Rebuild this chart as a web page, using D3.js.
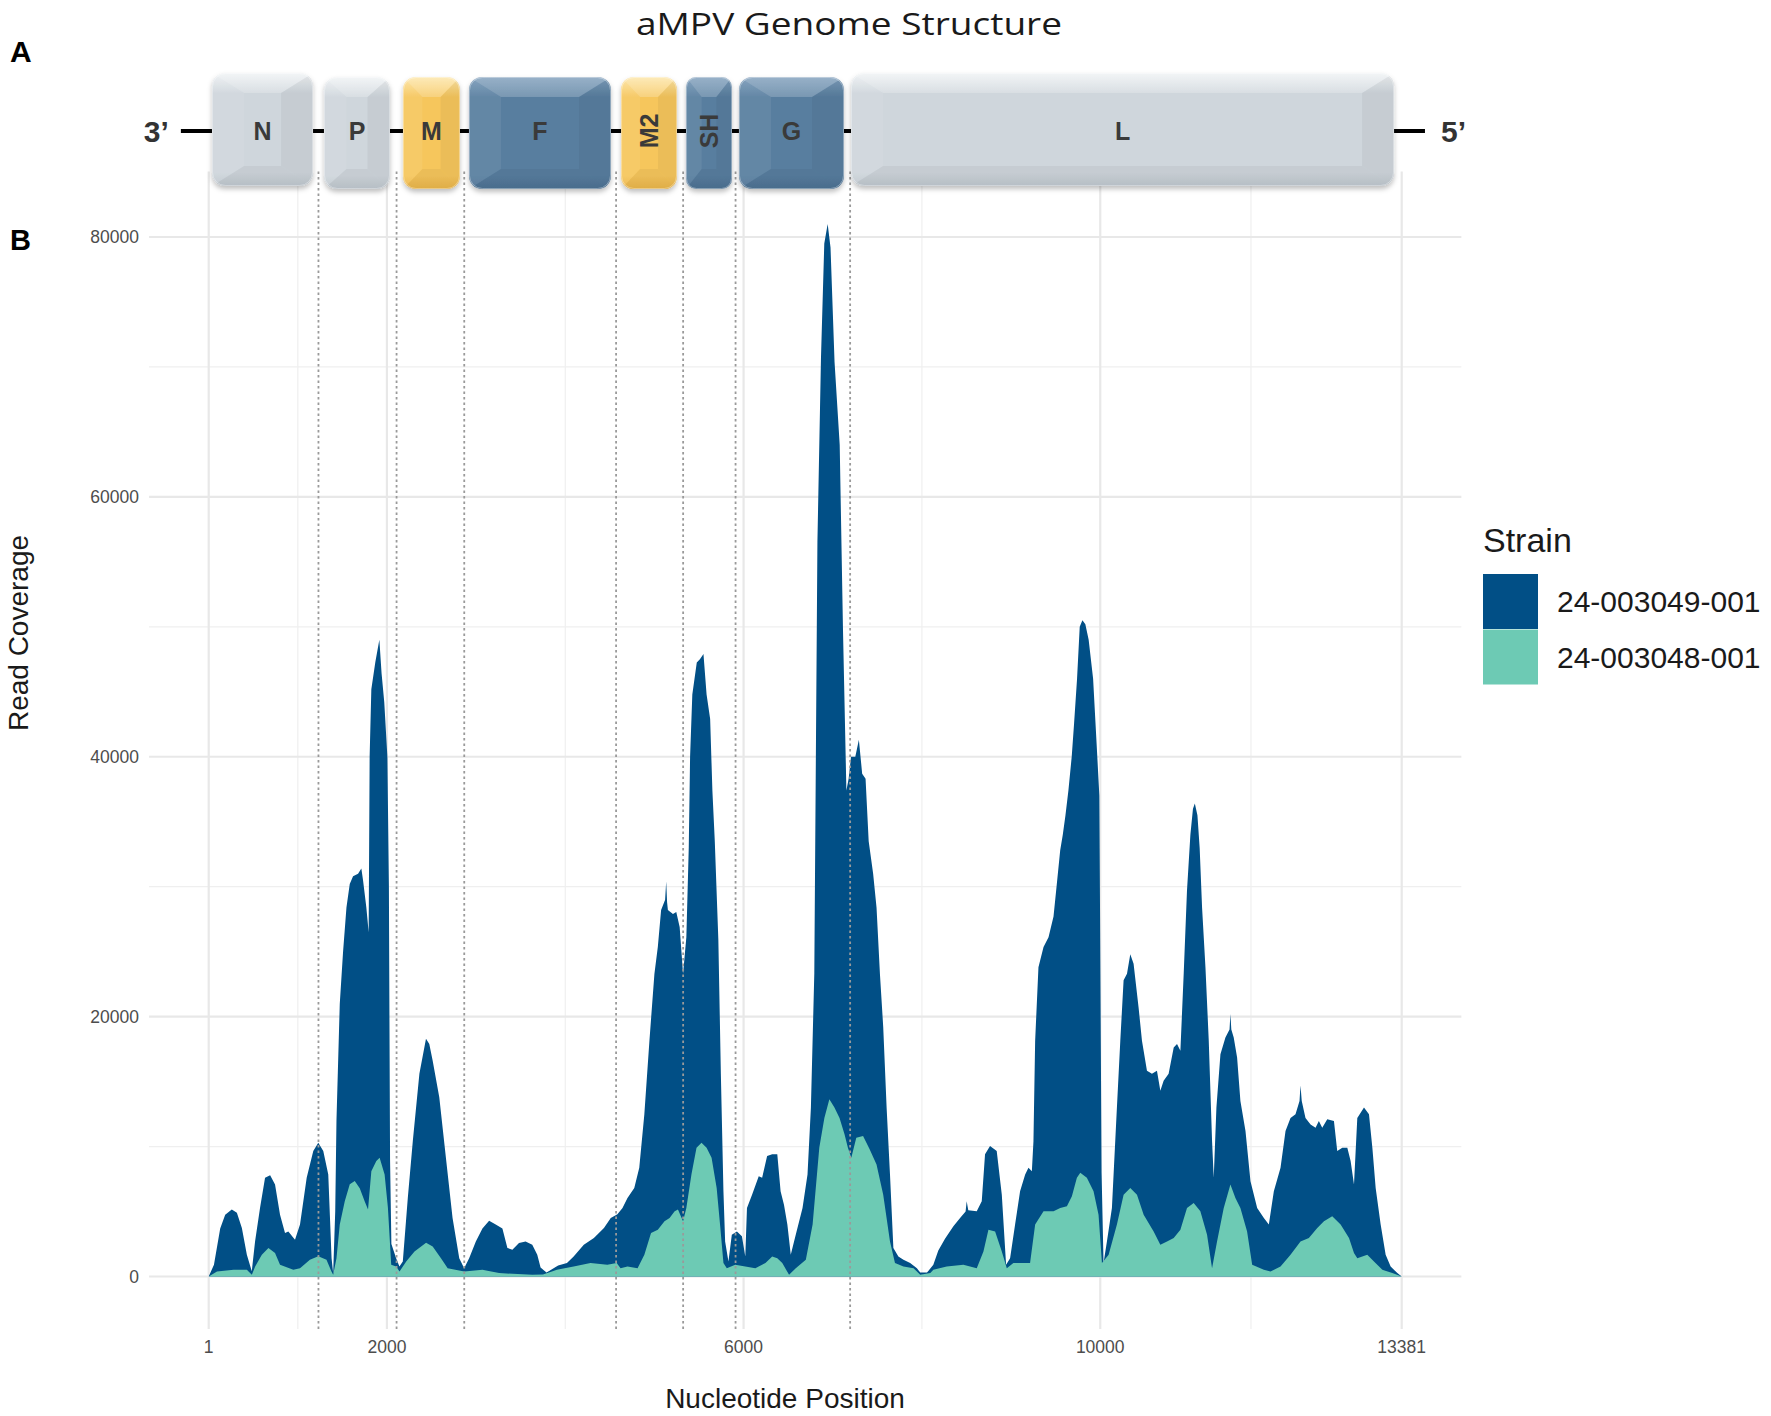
<!DOCTYPE html>
<html><head><meta charset="utf-8">
<script src="https://cdn.jsdelivr.net/npm/d3@7"></script>
<style>body{margin:0;background:#fff}svg{display:block}</style>
</head><body>
<svg id="chart" width="1771" height="1416"></svg>
<script>
// ---------- data ----------
const strains = ["24-003049-001", "24-003048-001"];
const strainColors = ["#014f86", "#6dcab4"];

const blueNt = [1,60,130,186,260,317,373,429,484,521,577,633,690,745,801,857,894,969,1025,1100,1174,1230,1286,1342,1379,1397,1420,1434,1471,1508,1546,1583,1620,1676,1713,1732,1769,1795,1806,1825,1870,1915,1940,1970,2005,2022,2035,2050,2103,2140,2178,2234,2290,2364,2438,2475,2513,2587,2662,2736,2811,2866,2922,2997,3071,3146,3220,3295,3351,3407,3481,3555,3630,3686,3723,3790,3860,3920,4019,4094,4208,4321,4434,4510,4585,4642,4698,4774,4830,4887,4944,5000,5038,5075,5120,5132,5142,5151,5208,5245,5283,5321,5358,5385,5400,5425,5475,5510,5550,5585,5625,5650,5677,5717,5745,5774,5793,5830,5868,5925,5981,6019,6038,6095,6170,6208,6264,6321,6378,6415,6453,6491,6529,6585,6661,6717,6755,6793,6828,6868,6905,6943,6975,7020,7078,7115,7153,7178,7205,7253,7293,7330,7368,7403,7453,7491,7529,7566,7604,7642,7680,7736,7793,7868,7944,7981,8057,8128,8184,8259,8353,8428,8490,8502,8520,8615,8671,8708,8764,8839,8896,8944,8989,9045,9101,9158,9195,9233,9251,9270,9307,9364,9420,9476,9513,9551,9580,9610,9643,9680,9707,9740,9770,9800,9833,9870,9920,9960,9990,10015,10037,10075,10131,10187,10225,10262,10300,10337,10374,10430,10468,10524,10580,10636,10674,10711,10767,10824,10861,10899,10936,10973,11011,11040,11061,11090,11115,11142,11180,11217,11254,11273,11303,11348,11404,11450,11460,11470,11497,11535,11572,11629,11685,11760,11835,11891,11947,12022,12078,12134,12190,12235,12246,12260,12302,12359,12415,12452,12490,12546,12621,12658,12715,12771,12808,12846,12883,12958,13014,13052,13089,13145,13201,13257,13332,13381];
const blueCov = [0,900,3700,4760,5150,4900,3730,1670,400,2700,5300,7600,7800,7080,4760,3350,3470,2830,4000,7600,9650,10300,9650,7850,1400,260,5000,12000,21000,25000,28400,30200,30800,31000,31400,30500,28400,26500,40000,45200,47300,49000,46400,44200,40000,30000,9000,2500,1400,770,1150,6050,10400,15600,18300,17900,16600,13800,9100,4500,1400,640,1400,2700,3700,4300,4000,3700,2200,2060,2570,2700,2450,1670,700,300,600,850,1030,1540,2450,2960,3730,4500,4800,5280,6050,6820,8370,12480,18150,23300,25350,28200,29000,30400,28800,28200,27900,28060,26900,23300,26100,33000,40000,44800,47250,47500,47900,44800,42900,37400,33500,25900,15600,6560,2700,1160,3220,3470,3090,1540,5280,6300,7720,7600,9270,9400,9400,6560,5530,4000,1670,3220,5280,7850,13000,23300,56500,70700,79500,81000,79200,70400,64000,49700,37400,38300,40000,40000,41300,38700,38300,33500,31000,28400,23300,19200,13000,7850,2190,1540,1290,1030,640,300,300,900,2000,2900,3860,4500,5000,5800,5100,5020,5800,9400,10040,9650,6300,900,1400,4000,6560,7850,8370,8100,10400,18150,23800,25350,26100,27700,30200,32800,34000,35500,37400,40000,42600,46000,50000,50500,50200,49000,46000,40900,37000,8000,1030,2700,5280,13000,18150,22800,23300,24800,24060,20700,18150,15830,15600,15830,14290,15060,15600,17630,17890,17370,23300,29700,34000,36000,36400,35500,33000,28400,23800,18150,10440,7600,13000,17100,18400,19000,20200,19000,18400,16860,13500,11200,7340,5280,4500,4000,6560,8370,11200,12200,12480,13500,14700,13500,12200,11700,11450,11970,11450,12100,11970,9650,9900,9900,8880,7080,12200,13000,12480,9900,6820,4000,1670,770,260,0];

const tealNt = [1,94,280,429,485,522,597,671,745,801,950,1025,1136,1230,1322,1378,1397,1434,1471,1527,1583,1639,1695,1750,1788,1825,1881,1918,1974,2011,2048,2104,2141,2216,2309,2439,2513,2606,2681,2867,3072,3258,3630,3750,3906,4094,4283,4472,4577,4620,4698,4811,4887,4962,5038,5113,5170,5227,5264,5321,5358,5415,5472,5528,5585,5641,5698,5736,5774,5812,5906,6019,6132,6245,6321,6378,6434,6510,6585,6698,6774,6849,6906,6962,7019,7076,7132,7170,7208,7264,7340,7415,7491,7566,7642,7698,7793,7906,7981,8094,8128,8278,8465,8615,8690,8746,8821,8896,8952,9026,9213,9270,9364,9476,9551,9626,9682,9738,9776,9850,9925,9981,10019,10094,10187,10262,10337,10412,10487,10599,10674,10749,10824,10899,10973,11048,11123,11198,11254,11310,11385,11460,11516,11572,11647,11704,11835,11910,12022,12134,12246,12340,12434,12509,12602,12696,12790,12846,12883,12995,13070,13164,13276,13381];
const tealCov = [0,390,515,515,130,770,1670,2200,1800,900,515,640,1290,1550,1290,390,130,1400,4000,5800,7100,7350,6800,5800,5150,8100,8880,9140,7850,5300,900,770,390,1150,1930,2600,2300,1400,640,390,515,260,130,150,515,770,1030,900,1030,640,770,640,1670,3350,3600,4250,4500,5020,5150,4250,5280,7850,9900,10300,9900,9140,6820,4000,1030,640,900,770,640,1030,1540,1400,1030,130,640,1290,4000,9900,12200,13640,13000,12200,10940,9900,9140,10680,10810,9780,8620,6300,2700,1030,770,640,130,260,515,770,900,640,1930,3600,3470,1930,640,1030,1030,4000,5020,5020,5280,5400,6180,7600,7980,7600,6560,4760,1030,1670,4000,6300,6820,6300,4760,3470,2450,2700,2960,3600,5280,5660,5020,3220,640,2700,5280,7080,6050,5280,3470,900,515,390,770,1670,2700,2960,3730,4250,4630,4000,2960,1800,1400,1670,1160,515,260,0];

const xTicks = [1, 2000, 6000, 10000, 13381];
const xMinor = [1000.5, 4000, 8000, 11690.5];
const yTicks = [0, 20000, 40000, 60000, 80000];
const yMinor = [10000, 30000, 50000, 70000];
const geneBoundaries = [1232, 2108, 2867, 4570, 5322, 5910, 7195];

// genome schematic (positions in nucleotide units of the shared x scale)
const genes = ["N", "P", "M", "F", "M2", "SH", "G", "L"];
const geneStart = [38, 1294, 2180, 2920, 4626, 5354, 5948, 7205];
const geneEnd = [1171, 2034, 2819, 4513, 5253, 5870, 7126, 13295];
const geneKind = ["grey", "grey", "yellow", "blue", "yellow", "blue", "blue", "grey"];
const geneRotated = [false, false, false, false, true, true, false, false];
const geneTall = [true, false, false, false, false, false, false, true];
const genomeSpan = [-311, 13642];

// ---------- drawing ----------
const svg = d3.select("#chart");
const x = d3.scaleLinear().domain([1, 13381]).range([208.7, 1401.7]);
const y = d3.scaleLinear().domain([0, 80000]).range([1276.5, 237]);
const xExp = (13381 - 1) * 0.05;
const yMax = d3.max(blueCov);
const panelL = x(1 - xExp), panelR = x(13381 + xExp);
const panelT = y(yMax * 1.05), panelB = y(-yMax * 0.05);

const grid = svg.append("g");
grid.selectAll(".hmin").data(yMinor).join("line")
  .attr("x1", panelL).attr("x2", panelR).attr("y1", d => y(d)).attr("y2", d => y(d))
  .attr("stroke", "#efefef").attr("stroke-width", 1.2);
grid.selectAll(".vmin").data(xMinor).join("line")
  .attr("y1", panelT).attr("y2", panelB).attr("x1", d => x(d)).attr("x2", d => x(d))
  .attr("stroke", "#efefef").attr("stroke-width", 1.2);
grid.selectAll(".hmaj").data(yTicks).join("line")
  .attr("x1", panelL).attr("x2", panelR).attr("y1", d => y(d)).attr("y2", d => y(d))
  .attr("stroke", "#e8e8e8").attr("stroke-width", 2.2);
grid.selectAll(".vmaj").data(xTicks).join("line")
  .attr("y1", panelT).attr("y2", panelB).attr("x1", d => x(d)).attr("x2", d => x(d))
  .attr("stroke", "#e8e8e8").attr("stroke-width", 2.2);

const area = d3.area().x(d => x(d[0])).y0(y(0)).y1(d => y(d[1])).curve(d3.curveLinear);
svg.append("path").datum(d3.zip(blueNt, blueCov)).attr("d", area).attr("fill", strainColors[0]);
svg.append("path").datum(d3.zip(tealNt, tealCov)).attr("d", area).attr("fill", strainColors[1]);

svg.append("g").selectAll("line").data(geneBoundaries).join("line")
  .attr("x1", d => x(d)).attr("x2", d => x(d)).attr("y1", panelT).attr("y2", panelB)
  .attr("stroke", "#9a9a9a").attr("stroke-width", 1.8).attr("stroke-dasharray", "2.5,3");

// axes text
const tickFont = "'Liberation Sans', Arial, sans-serif";
svg.append("g").selectAll("text").data(yTicks).join("text")
  .attr("x", 139).attr("y", d => y(d)).attr("dy", "0.36em").attr("text-anchor", "end")
  .attr("font-family", tickFont).attr("font-size", 17.5).attr("fill", "#4d4d4d")
  .text(d => d);
svg.append("g").selectAll("text").data(xTicks).join("text")
  .attr("x", d => x(d)).attr("y", 1353).attr("text-anchor", "middle")
  .attr("font-family", tickFont).attr("font-size", 17.5).attr("fill", "#4d4d4d")
  .text(d => d);

svg.append("text").attr("x", 785).attr("y", 1408).attr("text-anchor", "middle")
  .attr("font-family", tickFont).attr("font-size", 28).attr("fill", "#1a1a1a")
  .text("Nucleotide Position");
svg.append("text").attr("transform", "translate(28,633) rotate(-90)").attr("text-anchor", "middle")
  .attr("font-family", tickFont).attr("font-size", 28).attr("fill", "#1a1a1a")
  .text("Read Coverage");

// legend
const lg = svg.append("g");
lg.append("text").attr("x", 1483).attr("y", 552).attr("font-family", tickFont)
  .attr("font-size", 34).attr("fill", "#1a1a1a").text("Strain");
lg.selectAll("rect").data(strains).join("rect")
  .attr("x", 1483).attr("y", (d, i) => 574 + i * 55.5).attr("width", 55).attr("height", 55)
  .attr("fill", (d, i) => strainColors[i]);
lg.selectAll(".lab").data(strains).join("text")
  .attr("x", 1557).attr("y", (d, i) => 612 + i * 56).attr("font-family", tickFont)
  .attr("font-size", 30).attr("fill", "#1a1a1a").text(d => d);

// title and panel letters
svg.append("text").attr("x", 849).attr("y", 35).attr("text-anchor", "middle")
  .attr("font-family", "'Open Sans', sans-serif").attr("font-size", 31).attr("fill", "#1a1a1a")
  .attr("textLength", 426).attr("lengthAdjust", "spacingAndGlyphs")
  .text("aMPV Genome Structure");
svg.append("text").attr("x", 10).attr("y", 62).attr("font-family", tickFont)
  .attr("font-weight", "bold").attr("font-size", 30).attr("fill", "#000").text("A");
svg.append("text").attr("x", 10).attr("y", 250).attr("font-family", tickFont)
  .attr("font-weight", "bold").attr("font-size", 29).attr("fill", "#000").text("B");

// genome schematic
const defs = svg.append("defs");
const f = defs.append("filter").attr("id", "shadow").attr("x", "-20%").attr("y", "-20%").attr("width", "140%").attr("height", "150%");
f.append("feDropShadow").attr("dx", 0).attr("dy", 3).attr("stdDeviation", 2.5)
  .attr("flood-color", "#000").attr("flood-opacity", 0.25);
const palette = {
  grey: ["#f0f3f5", "#cfd6dc", "#bfc7ce"],
  yellow: ["#fde6a8", "#f6c65c", "#eab54b"],
  blue: ["#7e9ebb", "#587e9f", "#4d7193"]
};
Object.entries(palette).forEach(([k, c]) => {
  const g = defs.append("linearGradient").attr("id", "grad-" + k).attr("x1", 0).attr("y1", 0).attr("x2", 0).attr("y2", 1);
  g.append("stop").attr("offset", "0%").attr("stop-color", c[0]);
  g.append("stop").attr("offset", "18%").attr("stop-color", c[1]);
  g.append("stop").attr("offset", "88%").attr("stop-color", c[1]);
  g.append("stop").attr("offset", "100%").attr("stop-color", c[2]);
});

const lineY = 131;
svg.append("line").attr("x1", x(genomeSpan[0])).attr("x2", x(genomeSpan[1]))
  .attr("y1", lineY).attr("y2", lineY).attr("stroke", "#000").attr("stroke-width", 4);
svg.append("text").attr("x", x(genomeSpan[0]) - 12).attr("y", lineY + 11).attr("text-anchor", "end")
  .attr("font-family", tickFont).attr("font-weight", "bold").attr("font-size", 30).attr("fill", "#333")
  .text("3\u2019");
svg.append("text").attr("x", x(genomeSpan[1]) + 16).attr("y", lineY + 11).attr("text-anchor", "start")
  .attr("font-family", tickFont).attr("font-weight", "bold").attr("font-size", 30).attr("fill", "#333")
  .text("5\u2019");

const boxes = svg.append("g");
genes.forEach((name, i) => {
  const x0 = x(geneStart[i]), x1 = x(geneEnd[i]);
  const y0 = geneTall[i] ? 73 : 77, y1 = geneTall[i] ? 186 : 189;
  const w = x1 - x0, h = y1 - y0, r = Math.min(13, w * 0.22);
  const g = boxes.append("g");
  const cid = "clip" + i;
  defs.append("clipPath").attr("id", cid).append("rect")
    .attr("x", x0).attr("y", y0).attr("width", w).attr("height", h).attr("rx", r);
  g.append("rect").attr("x", x0).attr("y", y0).attr("width", w).attr("height", h).attr("rx", r)
    .attr("fill", "url(#grad-" + geneKind[i] + ")").attr("filter", "url(#shadow)");
  const bx = Math.min(32, w * 0.34), by = 20;
  const fac = g.append("g").attr("clip-path", "url(#" + cid + ")");
  const facets = [
    [[x0, y0], [x1, y0], [x1 - bx, y0 + by], [x0 + bx, y0 + by], "#fff", 0.20],
    [[x0, y1], [x1, y1], [x1 - bx, y1 - by], [x0 + bx, y1 - by], "#000", 0.045],
    [[x0, y0], [x0 + bx, y0 + by], [x0 + bx, y1 - by], [x0, y1], "#fff", 0.07],
    [[x1, y0], [x1 - bx, y0 + by], [x1 - bx, y1 - by], [x1, y1], "#000", 0.045]
  ];
  facets.forEach(p => {
    fac.append("polygon").attr("points", p.slice(0, 4).map(q => q.join(",")).join(" "))
      .attr("fill", p[4]).attr("fill-opacity", p[5]);
  });
  g.append("rect").attr("x", x0 + 0.5).attr("y", y0 + 0.5).attr("width", w - 1).attr("height", h - 1).attr("rx", r)
    .attr("fill", "none").attr("stroke", "#ffffff").attr("stroke-opacity", 0.35).attr("stroke-width", 1);
  const cx = (x0 + x1) / 2, cy = lineY;
  const t = g.append("text").attr("font-family", tickFont).attr("font-weight", "bold")
    .attr("font-size", 25).attr("fill", "#3a3a3a").attr("text-anchor", "middle").attr("dy", "0.36em")
    .text(name);
  if (geneRotated[i]) t.attr("transform", `translate(${cx},${cy}) rotate(-90)`);
  else t.attr("x", cx).attr("y", cy);
});
</script>
</body></html>
